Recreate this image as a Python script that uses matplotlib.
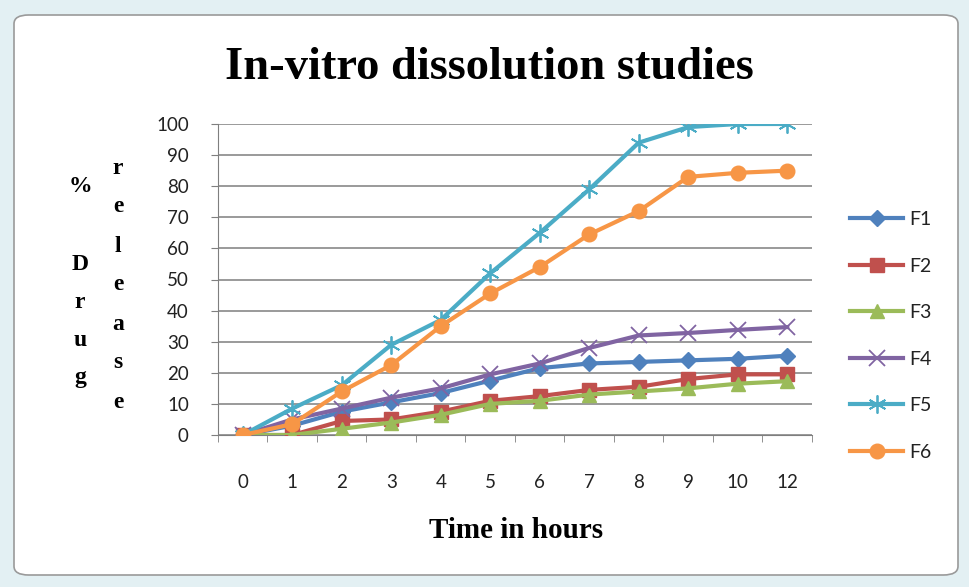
import numpy as np
import matplotlib.pyplot as plt
from matplotlib.patches import FancyBboxPatch

## Data
hours = ['0', '1', '2', '3', '4', '5', '6', '7', '8', '9', '10', '12']
f1 = [0, 3, 7.5, 10.5, 13.5, 17.5, 21.5, 23, 23.5, 24, 24.5, 25.5]
f2 = [0, 0, 4.5, 5, 7.5, 11, 12.5, 14.5, 15.5, 18, 19.5, 19.5]
f3 = [0, 0, 2, 4, 6.5, 10, 11, 13, 14, 15, 16.5, 17.3]
f4 = [0, 5, 8.5, 12, 15, 19.5, 23, 28, 32, 32.8, 33.8, 34.7]
f5 = [0, 8.5, 16, 29, 37, 52, 65, 79, 94, 99, 100, 100]
f6 = [0, 3.5, 14, 22.5, 35, 45.5, 54, 64.5, 72, 83, 84.3, 85]
names = ['F1', 'F2', 'F3', 'F4', 'F5', 'F6']

colors = ['#4F81BD', '#C0504D', '#9BBB59', '#8064A2', '#4BACC6', '#F79646']
markers = ['D', 's', '^', 'x', (6, 2, 0), 'o']
msizes = [8.5, 9.5, 9.5, 11, 13, 10.5]

fig = plt.figure(figsize=(9.7, 5.87), dpi=100)
fig.patch.set_facecolor('#e3f0f3')

##Chart frame like the spreadsheet chart area
frame = FancyBboxPatch((14/970, 12/587), 944/970, 560/587,
                       boxstyle='round,pad=0,rounding_size=0.015',
                       transform=fig.transFigure, facecolor='white',
                       edgecolor='#9a9a9a', linewidth=1.2, zorder=-1)
fig.patches.append(frame)

ax = fig.add_axes([218/970, 1-435/587, 594/970, 311/587])
ax.set_facecolor('none')
ax.set_zorder(2)

x = np.arange(len(hours))
series = [f1, f2, f3, f4, f5, f6]
for i in range(6):
    mew = 1.3 if i in (3, 4) else 1
    ax.plot(x, series[i], color=colors[i], linewidth=3, marker=markers[i],
            markersize=msizes[i], markeredgewidth=mew, markeredgecolor=colors[i],
            markerfacecolor=colors[i], label=names[i], zorder=3)

ax.set_xlim(-0.5, len(hours)-0.5)
ax.set_ylim(0, 100)
ax.set_yticks(np.arange(0, 101, 10))
ax.yaxis.grid(True, color='#7f7f7f', linewidth=1.1)
ax.set_axisbelow(True)

ax.set_xticks(x)
ax.set_xticklabels(hours)
ax.set_xticks(np.arange(-0.5, len(hours), 1), minor=True)
ax.tick_params(axis='x', which='major', length=0, pad=28, labelsize=13.5, colors='#222222')
ax.tick_params(axis='x', which='minor', length=5, direction='out', color='#7f7f7f')
ax.tick_params(axis='y', length=5, direction='out', color='#7f7f7f', pad=16,
               labelsize=13.5, colors='#222222')
for lab in ax.get_xticklabels() + ax.get_yticklabels():
    lab.set_family('Lato')

for s in ['top', 'right']:
    ax.spines[s].set_visible(False)
ax.spines['left'].set_color('#7f7f7f')
ax.spines['bottom'].set_color('#7f7f7f')

##Titles
fig.text(0.504, 1-68/587, 'In-vitro dissolution studies', ha='center', va='center',
         family='Liberation Serif', weight='bold', fontsize=33.5)
fig.text(516/970, 1-531/587, 'Time in hours', ha='center', va='center',
         family='Liberation Serif', weight='bold', fontsize=21)

## Stacked y label
col1 = ['%', '', 'D', 'r', 'u', 'g']
y1 = [186, 226, 264, 303, 341, 378]
for ch, yy in zip(col1, y1):
    fig.text(80/970, 1-yy/587, ch, ha='center', va='center',
             family='Liberation Serif', weight='bold', fontsize=17)
col2 = list('release')
for k, ch in enumerate(col2):
    fig.text(118/970, 1-(168+39*k)/587, ch, ha='center', va='center',
             family='Liberation Serif', weight='bold', fontsize=17)

leg = fig.legend(loc='upper left', bbox_to_anchor=(850/970, 1-211/587), frameon=False,
                 handlelength=2.75, labelspacing=1.52, handletextpad=0.3,
                 borderaxespad=0, borderpad=0,
                 prop={'family': 'Lato', 'size': 14})
for t in leg.get_texts():
    t.set_color('#222222')

plt.savefig('out.png', dpi=100, facecolor=fig.get_facecolor())
